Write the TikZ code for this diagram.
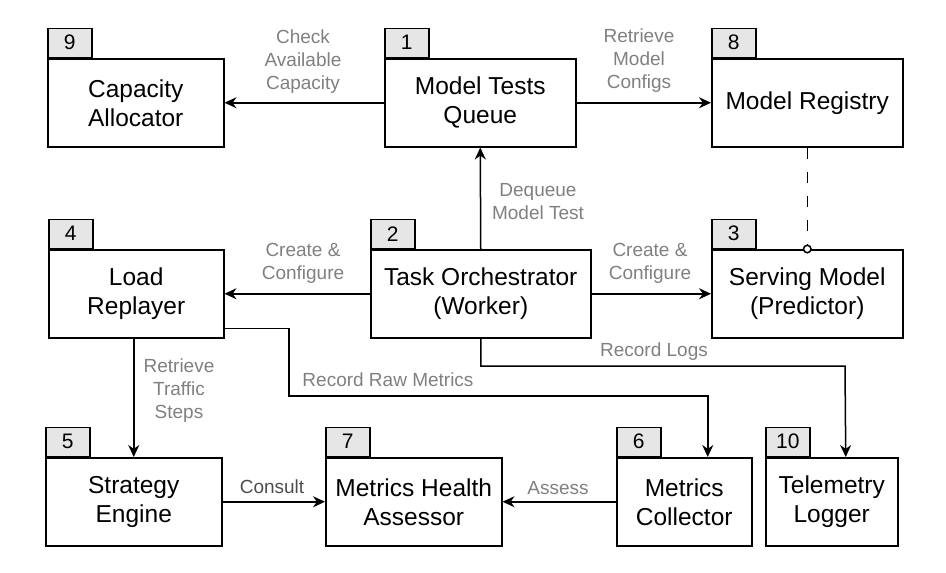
\documentclass[tikz,border=0pt]{standalone}
\usepackage{fontspec}
\setmainfont{Liberation Sans}
\usetikzlibrary{arrows.meta}
\definecolor{tabgray}{HTML}{E6E6E6}
\definecolor{lblgray}{HTML}{808080}
\definecolor{dkgray}{HTML}{4D4D4D}
\begin{document}
\begin{tikzpicture}[x=1pt,y=-1pt,
  box/.style={draw,line width=1.5pt,minimum height=88pt,inner sep=0pt,align=center,
    font=\fontsize{24.5}{29}\selectfont,anchor=north west},
  tabbox/.style={draw,fill=tabgray,line width=1.5pt,minimum width=44pt,minimum height=29pt,
    inner sep=0pt,font=\fontsize{21}{24}\selectfont,anchor=south west},
  conn/.style={line width=1.5pt,-{Stealth[length=12pt,width=11pt]}},
  dconn/.style={line width=1.5pt,dash pattern=on 11pt off 13pt,
    -{Circle[open,length=9pt,width=9pt,fill=white]},shorten >=-4.5pt},
  lbl/.style={text=lblgray,font=\fontsize{19}{23}\selectfont,align=center,inner sep=0pt}]
\useasboundingbox (0,0) rectangle (946,573);

% boxes
\node[box,minimum width=176pt] (b9) at (47,58) {Capacity\\Allocator};
\node[box,minimum width=191pt] (b1) at (384,58) {Model Tests\\Queue};
\node[box,minimum width=191pt] (b8) at (711,58) {Model Registry};
\node[box,minimum width=175pt] (b4) at (48,249) {Load\\Replayer};
\node[box,minimum width=220pt] (b2) at (370,249) {Task Orchestrator\\(Worker)};
\node[box,minimum width=191pt] (b3) at (711,249) {Serving Model\\(Predictor)};
\node[box,minimum width=176pt] (b5) at (45,457) {Strategy\\Engine};
\node[box,minimum width=176pt] (b7) at (325,457) {Metrics Health\\Assessor};
\node[box,minimum width=135pt] (b6) at (616,457) {Metrics\\Collector};
\node[box,minimum width=132pt] (b10) at (765,457) {Telemetry\\Logger};

% tabs
\node[tabbox] (t9) at (b9.north west) {9};
\node[tabbox] (t1) at (b1.north west) {1};
\node[tabbox] (t8) at (b8.north west) {8};
\node[tabbox] (t4) at (b4.north west) {4};
\node[tabbox] (t2) at (b2.north west) {2};
\node[tabbox] (t3) at (b3.north west) {3};
\node[tabbox] (t5) at (b5.north west) {5};
\node[tabbox] (t7) at (b7.north west) {7};
\node[tabbox] (t6) at (b6.north west) {6};
\node[tabbox] (t10) at (b10.north west) {10};

% connectors
\draw[conn] (b1.west) -- (b9.east);
\draw[conn] (b1.east) -- (b8.west);
\draw[conn] (b2.north) -- (b1.south);
\draw[conn] (b2.east) -- (b3.west);
\draw[conn] (b2.west) -- (b4.east);
\draw[dconn] (b8.south) -- (b3.north);
\draw[conn] (b5.north |- b4.south) -- (b5.north);
\coordinate (k1) at (289,396);
\draw[conn] ([yshift=10pt]b4.south east) -| (k1) -| ([xshift=23.5pt]b6.north);
\coordinate (k2) at (845,366);
\draw[conn] (b2.south) |- (k2) -- ([xshift=14pt]b10.north);
\draw[conn] (b5.east) -- (b7.west);
\draw[conn] (b6.west) -- (b7.east);

% labels
\node[lbl] (l1) at (303,62) {Check\\Available\\Capacity};
\node[lbl] (l2) at (639,61) {Retrieve\\Model\\Configs};
\node[lbl] (l3) at (538,202) {Dequeue\\Model Test};
\node[lbl] (l4) at (650,263) {Create \&\\Configure};
\node[lbl] (l5) at (303,263) {Create \&\\Configure};
\node[lbl] (l6) at (179,391) {Retrieve\\Traffic\\Steps};
\node[lbl] (l7) at (388,380) {Record Raw Metrics};
\node[lbl] (l8) at (654,352) {Record Logs};
\node[lbl,text=dkgray] (l9) at (272,487) {Consult};
\node[lbl] (l10) at (558,488) {Assess};
\end{tikzpicture}
\end{document}
